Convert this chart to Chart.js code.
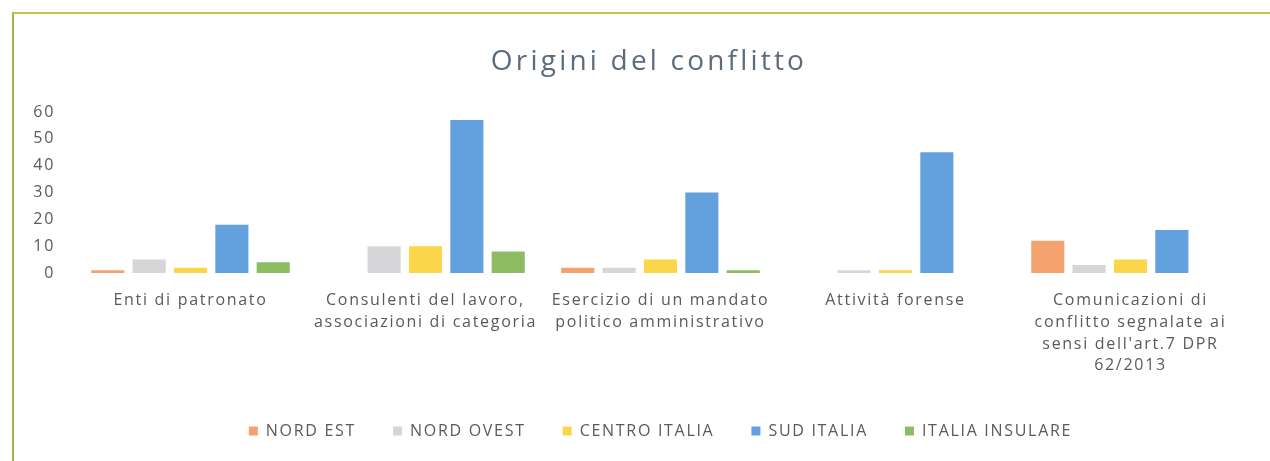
<!DOCTYPE html>
<html>
<head>
<meta charset="utf-8">
<script src="https://cdn.jsdelivr.net/npm/chart.js@4.4.1/dist/chart.umd.min.js"></script>
<style>
html,body{margin:0;padding:0;background:#fff;}
#wrap{position:relative;width:1270px;height:461px;overflow:hidden;}
#frame{position:absolute;left:12px;top:12px;width:1300px;height:500px;border-left:2px solid #a9ab55;border-top:2px solid #c9c24a;box-sizing:border-box;pointer-events:none;}
canvas{position:absolute;left:0;top:0;}
</style>
</head>
<body>
<div id="wrap">
<canvas id="c" width="1270" height="461"></canvas>
<div id="frame"></div>
</div>
<script>
const chartTitle = "Origini del conflitto";
const categories = [
  ["Enti di patronato"],
  ["Consulenti del lavoro,", "associazioni di categoria"],
  ["Esercizio di un mandato", "politico amministrativo"],
  ["Attività forense"],
  ["Comunicazioni di", "conflitto segnalate ai", "sensi dell'art.7 DPR", "62/2013"]
];
const seriesNames = ["NORD EST", "NORD OVEST", "CENTRO ITALIA", "SUD ITALIA", "ITALIA INSULARE"];
const nordEst       = [1, 0, 2, 0, 12];
const nordOvest     = [5, 10, 2, 1, 3];
const centroItalia  = [2, 10, 5, 1, 5];
const sudItalia     = [18, 57, 30, 45, 16];
const italiaInsulare= [4, 8, 1, 0, 0];
const yTicks = [0, 10, 20, 30, 40, 50, 60];
const seriesColors = ["#f4a26e", "#d6d6d8", "#fbd54a", "#62a0de", "#8dbc62"];

const values = [nordEst, nordOvest, centroItalia, sudItalia, italiaInsulare];
const FONT = "'Open Sans', sans-serif";
const TXT = "#5a5a5a";

// widen text spacing like the (horizontally stretched) original
const canvas = document.getElementById('c');
const ctx = canvas.getContext('2d');
const fontDesc = Object.getOwnPropertyDescriptor(CanvasRenderingContext2D.prototype, 'font');
Object.defineProperty(ctx, 'font', {
  configurable: true,
  get() { return fontDesc.get.call(this); },
  set(v) {
    fontDesc.set.call(this, v);
    const m = /(\d+(?:\.\d+)?)px/.exec(v);
    const size = m ? parseFloat(m[1]) : 12;
    this.letterSpacing = size >= 24 ? '3.2px' : '1.7px';
  }
});

const titlePlugin = {
  id: 'titleText',
  afterDraw(c) {
    const x = c.ctx;
    x.save();
    x.font = "28px " + FONT;
    x.fillStyle = '#5d6b7e';
    x.textAlign = 'center';
    x.textBaseline = 'middle';
    x.fillText(chartTitle, 649, 62);
    x.restore();
  }
};

new Chart(ctx, {
  type: 'bar',
  data: {
    labels: categories,
    datasets: seriesNames.map((n, i) => ({
      label: n,
      data: values[i],
      backgroundColor: seriesColors[i],
      borderWidth: 0,
      categoryPercentage: 0.88,
      barPercentage: 0.8
    }))
  },
  plugins: [titlePlugin],
  options: {
    responsive: false,
    animation: false,
    devicePixelRatio: 1,
    layout: { padding: { left: 0, right: 22, top: 112, bottom: 12 } },
    plugins: {
      title: { display: false },
      legend: {
        position: 'bottom',
        fullSize: false,
        labels: {
          color: TXT,
          font: { family: FONT, size: 16 },
          boxWidth: 9,
          boxHeight: 9,
          padding: 37
        }
      },
      tooltip: { enabled: false }
    },
    scales: {
      x: {
        grid: { display: false, drawTicks: false },
        border: { display: false },
        ticks: {
          color: TXT,
          font: { family: FONT, size: 16, lineHeight: 1.35 },
          padding: 17,
          autoSkip: false,
          maxRotation: 0,
          minRotation: 0
        },
        afterFit: s => { s.height = 113; }
      },
      y: {
        min: 0,
        max: 60,
        grid: { display: false, drawTicks: false },
        border: { display: false },
        afterBuildTicks: s => { s.ticks = yTicks.map(v => ({ value: v })); },
        ticks: {
          color: TXT,
          font: { family: FONT, size: 16 },
          padding: 18
        },
        afterFit: s => { s.width = 73; }
      }
    }
  }
});
</script>
</body>
</html>
